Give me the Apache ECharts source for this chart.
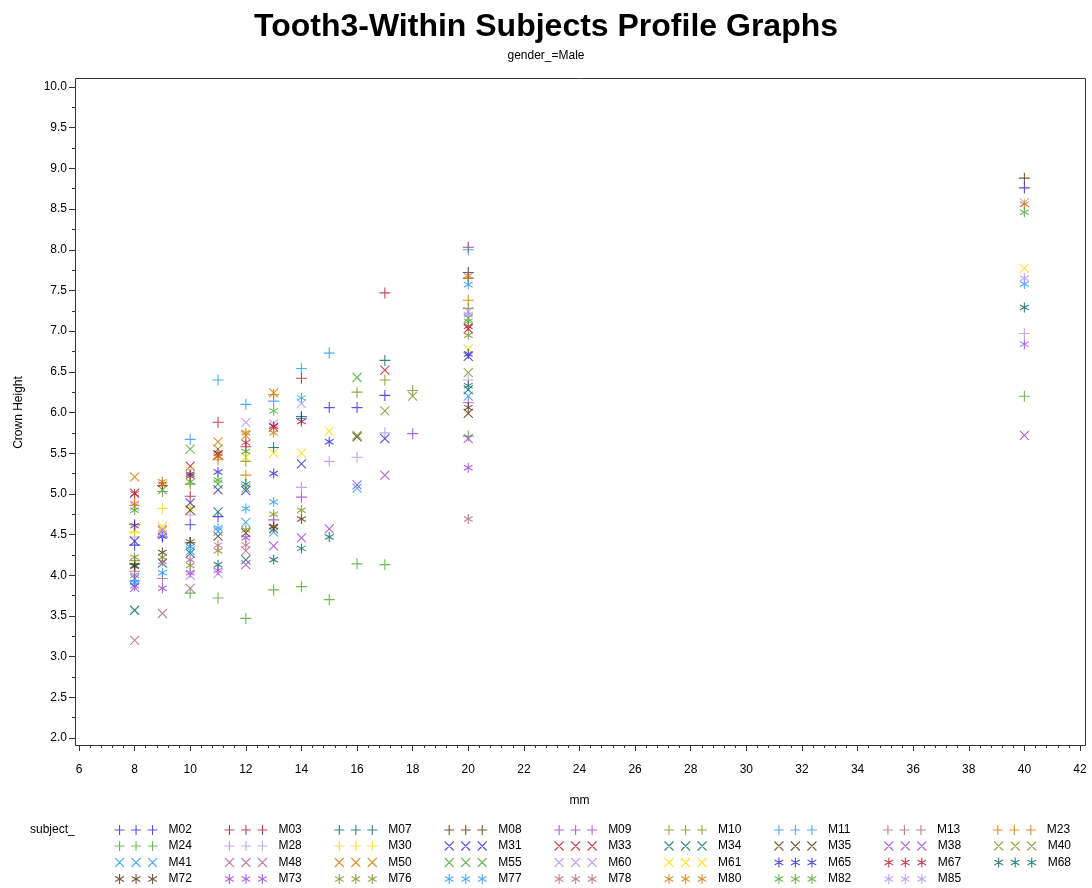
<!DOCTYPE html>
<html><head><meta charset="utf-8">
<script src="https://cdn.jsdelivr.net/npm/echarts@6/dist/echarts.min.js"></script>
<style>html,body{margin:0;padding:0;background:#fff}#c{width:1092px;height:888px}</style>
</head><body><div id="c"></div><script>
// ---------- data ----------
const subjects = ['M02','M03','M07','M08','M09','M10','M11','M13','M23','M24','M28','M30',
                  'M31','M33','M34','M35','M38','M40','M41','M48','M50','M55','M60','M61',
                  'M65','M67','M68','M72','M73','M76','M77','M78','M80','M82','M85'];
// [mm, crown height]
const M02 = [[8,4.37],[9,4.47],[10,4.62],[11,4.72],[14,5.93],[15,6.06],[16,6.06],[17,6.21],[20,7.72],[40,8.76]];
const M03 = [[8,4.62],[9,5.10],[10,4.97],[11,5.88],[12,5.58],[14,6.42],[17,7.47],[20,8.03]];
const M07 = [[13,5.57],[14,5.95],[17,6.64]];
const M08 = [[8,4.14],[10,4.40],[20,7.65],[40,8.88]];
const M09 = [[13,4.68],[14,4.96],[18,5.74],[20,6.12]];
const M10 = [[8,4.18],[10,5.12],[12,5.40],[16,6.25],[17,6.40],[18,6.27],[20,7.28]];
const M11 = [[8,3.93],[10,5.67],[11,6.40],[12,6.10],[13,6.14],[14,6.54],[15,6.73],[20,8.00]];
const M13 = [[8,4.05],[9,3.96]];
const M23 = [[8,4.86],[11,5.42],[12,5.23],[13,6.22],[20,7.38]];
const M24 = [[9,5.03],[10,3.78],[11,3.72],[12,3.47],[13,3.82],[14,3.86],[15,3.70],[16,4.14],[17,4.13],[20,5.71],[40,6.20]];
const M28 = [[8,4.47],[10,4.74],[14,5.08],[15,5.40],[16,5.45],[17,5.75],[20,6.40],[40,6.97]];
const M30 = [[8,4.53],[9,4.82],[10,4.83]];
const M31 = [[8,4.42],[10,4.89],[11,5.05],[12,5.04],[14,5.37],[17,5.68],[20,6.69]];
const M33 = [[8,5.01],[10,5.34],[11,5.48],[13,5.82],[17,6.52],[20,7.03]];
const M34 = [[8,3.57],[9,4.15],[10,4.27],[11,4.78],[12,4.19],[20,6.28]];
const M35 = [[10,4.80],[11,4.48],[12,4.52],[13,4.57],[16,5.70],[20,5.99]];
const M38 = [[8,3.85],[12,4.13],[13,4.36],[14,4.46],[15,4.57],[16,5.11],[17,5.23],[20,5.68],[40,5.72]];
const M40 = [[11,5.55],[16,5.72],[17,6.02],[18,6.20],[20,6.49]];
const M41 = [[8,3.96],[10,4.30],[11,4.54],[12,4.65],[13,4.53],[16,5.07],[20,6.20]];
const M48 = [[8,3.20],[9,3.53],[10,3.84],[12,4.30]];
const M50 = [[8,5.21],[9,4.55],[11,5.64],[12,5.72],[13,6.24]];
const M55 = [[9,5.05],[10,5.55],[11,5.12],[12,5.07],[16,6.43],[20,7.16]];
const M60 = [[8,4.85],[9,4.57],[10,4.00],[11,4.02],[12,5.88],[13,5.86],[14,6.11],[20,7.24],[40,8.58]];
const M61 = [[8,4.56],[9,4.60],[10,5.28],[12,5.45],[13,5.50],[14,5.50],[15,5.77],[20,6.78],[40,7.77]];
const M65 = [[8,4.61],[9,4.48],[10,5.24],[11,5.27],[13,5.25],[15,5.64],[20,6.72]];
const M67 = [[8,5.00],[9,5.12],[10,5.22],[11,5.50],[12,5.63],[13,5.83],[14,5.89],[20,7.06]];
const M68 = [[8,4.12],[11,4.13],[12,5.12],[13,4.19],[14,4.33],[15,4.47],[20,6.33],[40,7.29]];
const M72 = [[8,4.11],[9,4.28],[10,4.41],[13,4.60],[14,4.69],[20,6.06]];
const M73 = [[8,3.87],[9,3.84],[10,4.03],[11,4.06],[12,4.46],[20,5.32],[40,6.84]];
const M76 = [[8,4.22],[9,4.22],[10,4.12],[11,4.30],[12,4.56],[13,4.75],[14,4.80],[20,6.95]];
const M77 = [[8,3.91],[9,4.03],[10,4.35],[11,4.58],[12,4.82],[13,4.90],[14,6.18],[20,7.57],[40,7.58]];
const M78 = [[8,4.00],[9,4.17],[10,4.19],[11,4.37],[12,4.37],[20,4.69]];
const M80 = [[8,4.88],[9,5.15],[11,5.46],[12,5.75],[13,5.75],[20,7.68],[40,8.56]];
const M82 = [[8,4.80],[10,5.15],[11,5.17],[12,5.52],[13,6.02],[20,7.12],[40,8.46]];
const M85 = [[9,4.52],[20,7.20],[40,7.65]];
const seriesValues = [M02,M03,M07,M08,M09,M10,M11,M13,M23,M24,M28,M30,
                      M31,M33,M34,M35,M38,M40,M41,M48,M50,M55,M60,M61,
                      M65,M67,M68,M72,M73,M76,M77,M78,M80,M82,M85];
const xTickValues = [6,42,2];      // min, max, step
const yTickValues = [2,10,0.5];

// ---------- style ----------
const COLORS = ['#2A25D9','#B2182B','#01665E','#543005','#9D3CDB','#7F8E1F',
                '#2597FA','#B26084','#D17800','#47A82A','#B38EF3','#F9DA04'];
const FONT = 'Liberation Sans, Arial, sans-serif';
function plusAt(cx, cy, r){ return `M${cx},${cy-r}L${cx},${cy+r}M${cx-r},${cy}L${cx+r},${cy}`; }
function xAt(cx, cy, r){ r*=0.9; return `M${cx-r},${cy-r}L${cx+r},${cy+r}M${cx+r},${cy-r}L${cx-r},${cy+r}`; }
function starAt(cx, cy, r){ const dx=r*0.866, dy=r*0.5;
  return `M${cx},${cy-r}L${cx},${cy+r}M${cx-dx},${cy-dy}L${cx+dx},${cy+dy}M${cx-dx},${cy+dy}L${cx+dx},${cy-dy}`; }
const SHAPES = [plusAt, xAt, starAt];
function kindOf(i){ return i < 12 ? 0 : (i < 24 ? 1 : 2); }
function markSymbol(i){ const f = SHAPES[kindOf(i)]; return 'path://M0,0' + f(5,5,5) + 'M10,10'; }
function legendIcon(i){ const f = SHAPES[kindOf(i)]; return 'path://M0,0' + f(5,5,5) + f(21.5,5,5) + f(38,5,5) + 'M49,10'; }

const series = subjects.map((name, i) => ({
  name, type: 'scatter', data: seriesValues[i],
  symbol: markSymbol(i), symbolSize: kindOf(i) === 0 ? 11 : 10,
  itemStyle: { color: COLORS[i % 12], borderColor: COLORS[i % 12], borderWidth: 1.1 },
  emphasis: { disabled: true }
}));

const rowTops = [823, 839, 855.5, 872];
const legends = rowTops.map((top, r) => ({
  left: 114, top, orient: 'horizontal', padding: 0,
  itemWidth: 49, itemHeight: 11, itemGap: 32, selectedMode: false,
  itemStyle: { borderWidth: 1.1 },
  textStyle: { fontSize: 12, color: '#000', fontFamily: FONT, lineHeight: 14 },
  data: subjects.slice(r * 9, r * 9 + 9).map(n => ({ name: n, icon: legendIcon(subjects.indexOf(n)) }))
}));

const chart = echarts.init(document.getElementById('c'), null, { renderer: 'canvas' });
chart.setOption({
  animation: false,
  backgroundColor: '#fff',
  title: [
    { text: 'Tooth3-Within Subjects Profile Graphs', left: 'center', top: 6,
      textStyle: { fontSize: 32, fontWeight: 'bold', color: '#000', fontFamily: FONT } },
    { text: 'gender_=Male', left: 'center', top: 45,
      textStyle: { fontSize: 12, fontWeight: 'normal', color: '#000', fontFamily: FONT } }
  ],
  grid: { left: 79, right: 12, top: 87, bottom: 150 },
  xAxis: {
    type: 'value', min: xTickValues[0], max: xTickValues[1], interval: xTickValues[2], offset: 7,
    axisLine: { show: false },
    axisTick: { show: true, length: 6, lineStyle: { color: '#333' } },
    minorTick: { show: true, splitNumber: 5, length: 3, lineStyle: { color: '#333' } },
    axisLabel: { margin: 19, fontSize: 12, color: '#000', fontFamily: FONT },
    splitLine: { show: false },
    name: 'mm', nameLocation: 'middle', nameGap: 50,
    nameTextStyle: { fontSize: 12, color: '#000', fontFamily: FONT }
  },
  yAxis: {
    type: 'value', min: yTickValues[0], max: yTickValues[1], interval: yTickValues[2], offset: 4,
    axisLine: { show: false },
    axisTick: { show: true, length: 6, lineStyle: { color: '#333' } },
    minorTick: { show: true, splitNumber: 2, length: 3, lineStyle: { color: '#333' } },
    axisLabel: { margin: 8, fontSize: 12, color: '#000', fontFamily: FONT,
                 formatter: v => v.toFixed(1) },
    splitLine: { show: false },
    name: 'Crown Height', nameLocation: 'middle', nameGap: 50, nameRotate: 90,
    nameTextStyle: { fontSize: 12, color: '#000', fontFamily: FONT }
  },
  legend: legends,
  graphic: [
    { type: 'rect', silent: true, z: 100,
      shape: { x: 75.5, y: 78.5, width: 1010, height: 667 },
      style: { fill: 'none', stroke: '#333', lineWidth: 1 } },
    { type: 'text', silent: true, left: 30, top: 823,
      style: { text: 'subject_', fontSize: 12, fill: '#000', font: '12px ' + FONT, lineHeight: 14 } }
  ],
  series
});
</script></body></html>
